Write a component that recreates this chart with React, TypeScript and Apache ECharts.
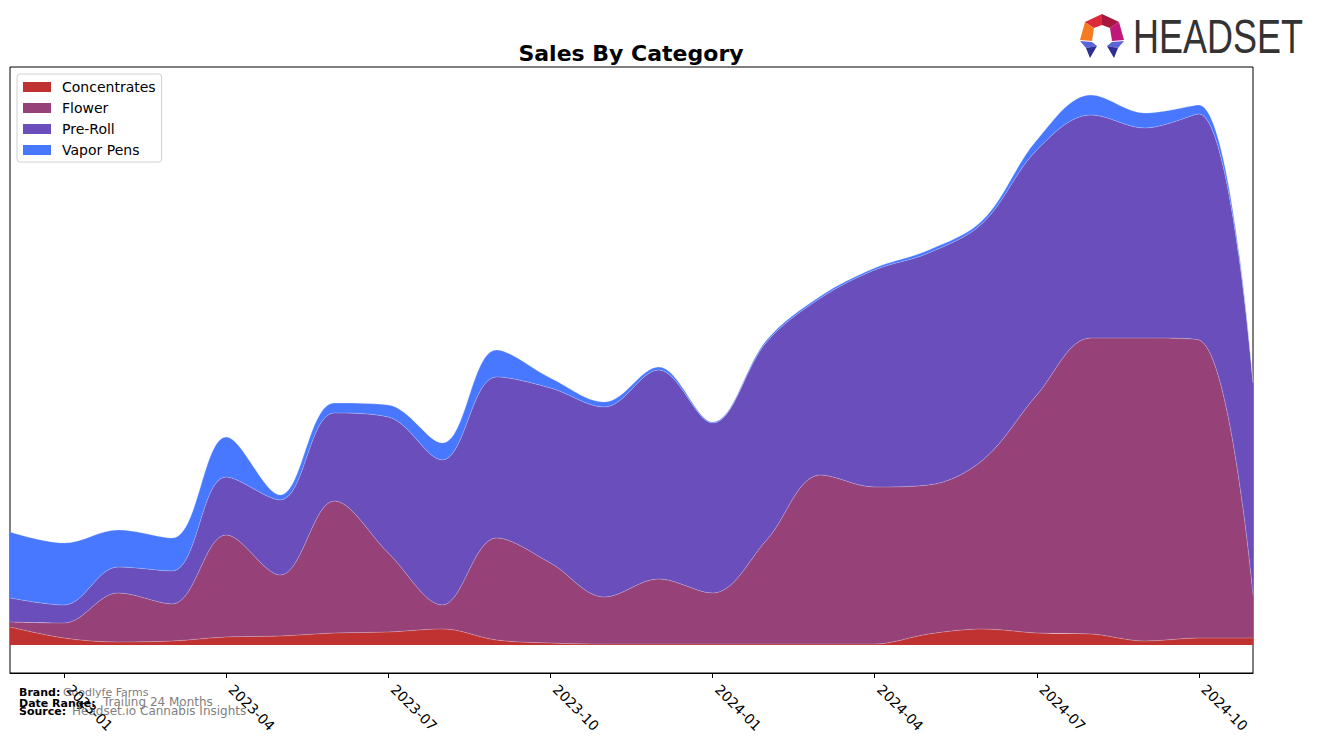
import React, { useEffect, useRef } from 'react';
import * as echarts from 'echarts';

const months = [
  '2022-12', '2023-01', '2023-02', '2023-03', '2023-04', '2023-05',
  '2023-06', '2023-07', '2023-08', '2023-09', '2023-10', '2023-11',
  '2023-12', '2024-01', '2024-02', '2024-03', '2024-04', '2024-05',
  '2024-06', '2024-07', '2024-08', '2024-09', '2024-10', '2024-11',
];
const concentrates = [18, 7, 3, 4, 8, 9, 12, 13, 16, 5, 2, 1, 1, 1, 1, 1, 1, 11, 16, 12, 11, 4, 7, 7];
const flower = [5, 15, 49, 37, 102, 61, 132, 79, 24, 102, 80, 47, 65, 51, 104, 169, 157, 149, 169, 238, 296, 303, 298, 43];
const preRoll = [24, 18, 26, 33, 58, 75, 88, 136, 145, 161, 175, 190, 209, 170, 198, 177, 217, 232, 237, 245, 223, 210, 226, 212];
const vaporPens = [66, 62, 37, 33, 40, 5, 10, 12, 17, 27, 10, 5, 3, 1, 2, 2, 2, 3, 3, 10, 20, 15, 9, 1];
const tickLabels = ['2023-01', '2023-04', '2023-07', '2023-10', '2024-01', '2024-04', '2024-07', '2024-10'];

const seriesDefs = [
  { name: 'Concentrates', values: concentrates, color: '#C03232' },
  { name: 'Flower', values: flower, color: '#964278' },
  { name: 'Pre-Roll', values: preRoll, color: '#6A4EBC' },
  { name: 'Vapor Pens', values: vaporPens, color: '#4878FF' },
];

export default function App() {
  const ref = useRef<HTMLDivElement>(null);
  useEffect(() => {
    document.body.style.margin = '0';
    if (!ref.current) return;
    const chart = echarts.init(ref.current, null, { renderer: 'svg' });
    const font = 'DejaVu Sans';
    const showTick = (i: number) => tickLabels.indexOf(months[i]) >= 0;
    const option: any = {
      animation: false,
      grid: {
        left: 10, right: 64, top: 67, bottom: 70,
        show: true, borderColor: '#000', borderWidth: 1, backgroundColor: 'transparent',
        outerBoundsMode: 'none', containLabel: false,
      },
      legend: {
        orient: 'vertical', left: 17, top: 74,
        icon: 'rect', itemWidth: 28, itemHeight: 10, itemGap: 7,
        padding: [6, 6, 5, 6],
        borderColor: '#d0d0d0', borderWidth: 1, borderRadius: 3,
        backgroundColor: 'rgba(255,255,255,0.85)',
        itemStyle: { borderWidth: 0 },
        textStyle: { fontFamily: font, fontSize: 14, color: '#000', lineHeight: 14, padding: [0, 0, 0, 6] },
        data: seriesDefs.map((s) => s.name),
      },
      xAxis: {
        type: 'category',
        data: months,
        boundaryGap: false,
        axisLine: { show: true, onZero: false, lineStyle: { color: '#000', width: 1 } },
        axisTick: { show: true, interval: (i: number) => showTick(i), length: 5, inside: false, lineStyle: { color: '#000', width: 1 } },
        axisLabel: {
          interval: (i: number) => showTick(i),
          rotate: -45,
          margin: 9,
          padding: [0, 0, 0, 7],
          color: '#000',
          fontFamily: font,
          fontSize: 14,
        },
        splitLine: { show: false },
      },
      yAxis: {
        type: 'value', min: -28, max: 578, show: false,
        splitLine: { show: false },
      },
      series: seriesDefs.map((s) => ({
        name: s.name,
        type: 'line',
        stack: 'total',
        smooth: 0.35,
        symbol: 'none',
        showSymbol: false,
        lineStyle: { width: 0.8, color: 'rgba(255,255,255,0.3)' },
        itemStyle: { color: s.color },
        areaStyle: { color: s.color, opacity: 1 },
        data: s.values,
      })),
      graphic: [
        {
          type: 'text', x: 631, y: 53,
          style: { text: 'Sales By Category', font: `bold 22px "${font}"`, fill: '#000', textAlign: 'center', textVerticalAlign: 'middle' },
        },
        { type: 'text', x: 19, y: 692, style: { text: 'Brand:', font: `bold 11px "${font}"`, fill: '#000', textVerticalAlign: 'middle' } },
        { type: 'text', x: 63, y: 692, style: { text: 'Goodlyfe Farms', font: `11px "${font}"`, fill: '#808080', textVerticalAlign: 'middle' } },
        { type: 'text', x: 19, y: 703, style: { text: 'Date Range:', font: `bold 11px "${font}"`, fill: '#000', textVerticalAlign: 'middle' } },
        { type: 'text', x: 103, y: 702, style: { text: 'Trailing 24 Months', font: `12px "${font}"`, fill: '#808080', textVerticalAlign: 'middle' } },
        { type: 'text', x: 19, y: 711, style: { text: 'Source:', font: `bold 11px "${font}"`, fill: '#000', textVerticalAlign: 'middle' } },
        { type: 'text', x: 72, y: 711, style: { text: 'Headset.io Cannabis Insights', font: `12px "${font}"`, fill: '#808080', textVerticalAlign: 'middle' } },
        // Logo
        { type: 'polygon', shape: { points: [[1080, 40], [1085, 22], [1094, 28], [1092, 41]] }, style: { fill: '#F47B20' } },
        { type: 'polygon', shape: { points: [[1085, 22], [1102, 14], [1102, 25], [1094, 28]] }, style: { fill: '#DD2A3A' } },
        { type: 'polygon', shape: { points: [[1102, 14], [1119, 22], [1110, 28], [1102, 25]] }, style: { fill: '#A8173F' } },
        { type: 'polygon', shape: { points: [[1119, 22], [1124, 40], [1112, 41], [1110, 28]] }, style: { fill: '#C0187A' } },
        { type: 'polygon', shape: { points: [[1080, 41], [1092, 42], [1097, 46], [1086, 48]] }, style: { fill: '#5B63DA' } },
        { type: 'polygon', shape: { points: [[1086, 48], [1097, 46], [1090, 58]] }, style: { fill: '#2E2F8E' } },
        { type: 'polygon', shape: { points: [[1124, 41], [1112, 42], [1107, 46], [1118, 48]] }, style: { fill: '#5B63DA' } },
        { type: 'polygon', shape: { points: [[1118, 48], [1107, 46], [1114, 58]] }, style: { fill: '#2E2F8E' } },
        {
          type: 'text', x: 1133, y: 37, scaleX: 0.75,
          style: { text: 'HEADSET', font: '48px "Liberation Sans"', fill: '#333333', textVerticalAlign: 'middle' },
        },
      ],
    };
    chart.setOption(option);
    return () => chart.dispose();
  }, []);
  return <div ref={ref} style={{ width: 1317, height: 743 }} />;
}
